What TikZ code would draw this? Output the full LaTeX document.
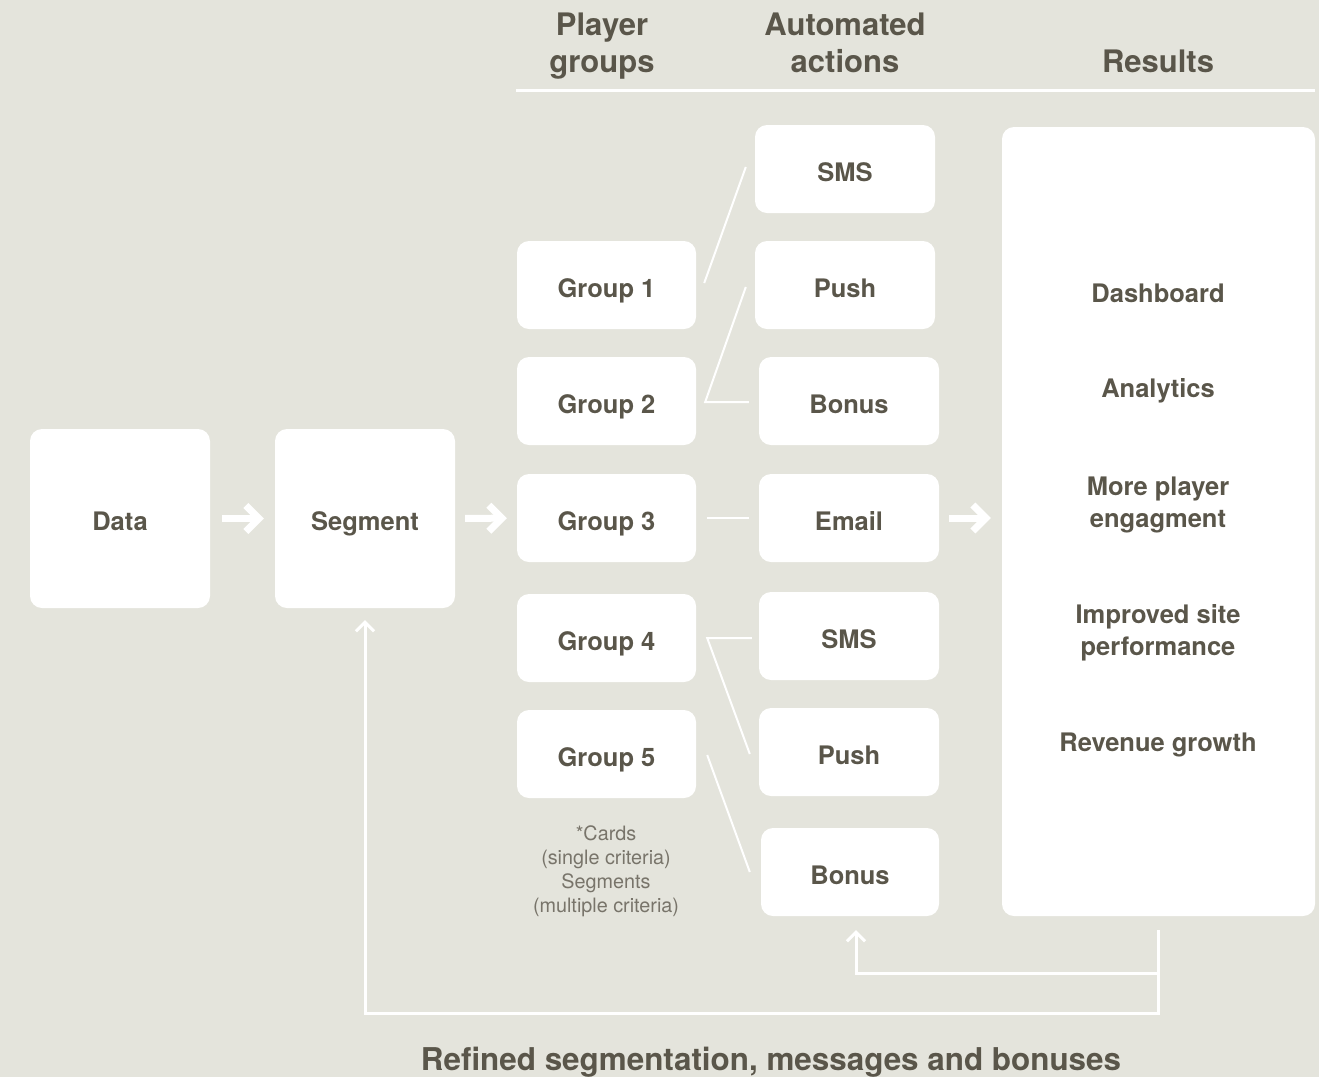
\documentclass[tikz,border=0pt]{standalone}
\usepackage{fontspec}
\setmainfont{TeX Gyre Heros}
\usetikzlibrary{arrows.meta,calc}
\definecolor{bgcol}{RGB}{228,228,220}
\definecolor{inkcol}{RGB}{90,86,74}
\definecolor{notecol}{RGB}{120,116,106}

\begin{document}
\begin{tikzpicture}[x=1pt,y=-1pt,
  box/.style={fill=white, rounded corners=12pt, inner sep=0pt, align=center,
    text=inkcol, font=\fontsize{25.5}{32}\selectfont\bfseries},
  bigbox/.style={box, minimum width=180pt, minimum height=179pt, text height=24pt, text depth=0pt},
  smallbox/.style={box, minimum width=180pt, minimum height=88pt, text height=24pt, text depth=0pt},
  item/.style={text=inkcol, align=center, font=\fontsize{25.5}{32}\selectfont\bfseries},
  head/.style={text=inkcol, align=center, font=\fontsize{31}{37}\selectfont\bfseries},
  link/.style={white, line width=2pt},
  bigarrow/.style={white, line width=7pt, -{Straight Barb[length=13pt,width=26pt,sharp]}},
  backarrow/.style={white, line width=3pt, -{Straight Barb[length=9pt,width=18pt]}}
]
  % background and page size
  \fill[bgcol, use as bounding box] (0,0) rectangle (1319,1077);

  % column heads
  \node[head] (hgroups) at (602,46) {Player\\groups};
  \node[head] (hactions) at (845,43) {Automated\\actions};
  \node[head] (hresults) at (1158,61) {Results};
  \draw[white, line width=3pt] (516,90) -- (1315,90);

  % first two steps
  \node[bigbox] (data) at (120,518.5) {Data};
  \node[bigbox] (segment) at (365,518.5) {Segment};

  % player groups
  \node[smallbox, minimum width=179pt] (g1) at (606.5,285) {Group 1};
  \node[smallbox, minimum width=179pt] (g2) at (606.5,401) {Group 2};
  \node[smallbox, minimum width=179pt] (g3) at (606.5,518) {Group 3};
  \node[smallbox, minimum width=179pt] (g4) at (606.5,638) {Group 4};
  \node[smallbox, minimum width=179pt] (g5) at (606.5,754) {Group 5};

  \node[text=notecol, align=center, font=\fontsize{19.8}{24}\selectfont] (note) at (606,871)
    {*Cards\\(single criteria)\\Segments\\(multiple criteria)};

  % automated actions
  \node[smallbox] (sms1) at (845,169) {SMS};
  \node[smallbox] (push1) at (845,285) {Push};
  \node[smallbox] (bonus1) at (849,401) {Bonus};
  \node[smallbox] (email) at (849,518) {Email};
  \node[smallbox] (sms2) at (849,636) {SMS};
  \node[smallbox] (push2) at (849,752) {Push};
  \node[smallbox, minimum width=178pt] (bonus2) at (850,872) {Bonus};

  % results
  \node[box, minimum width=313pt, minimum height=789pt] (results) at (1158.5,521.5) {};
  \node[item] (dashb) at (1158,293) {Dashboard};
  \node[item] (analyt) at (1158,391) {Analytics};
  \node[item] (engage) at (1158,505) {More player\\engagment};
  \node[item] (perf) at (1158,633) {Improved site\\performance};
  \node[item] (revenue) at (1158,745) {Revenue growth};

  % thick arrows
  \draw[bigarrow, shorten <=12pt, shorten >=11pt] (data) -- (segment);
  \draw[bigarrow, shorten <=10pt, shorten >=10pt] (segment) -- (g3);
  \draw[bigarrow, shorten <=10pt, shorten >=11pt] (email.east) -- (email.east -| results.west);

  % group to action lines
  \draw[link] ($(g1.east)+(8,-2)$) -- ($(sms1.west)+(-9,-2)$);
  \draw[link] ($(push1.west)+(-9,2)$) -- ($(g2.east)+(9,1)$) -- ($(bonus1.west)+(-10,1)$);
  \draw[link] ($(g3.east)+(11,0)$) -- ($(email.west)+(-10,0)$);
  \draw[link] ($(sms2.west)+(-7,2)$) -- ($(g4.east)+(11,0)$) -- ($(push2.west)+(-9,2)$);
  \draw[link] ($(g5.east)+(11,1)$) -- ($(bonus2.west)+(-11,0)$);

  % feedback loops
  \draw[backarrow] ($(results.south)+(-0.5,14)$) -- ++(0,83) -| ($(segment.south)+(0,12)$);
  \draw[backarrow] ($(results.south)+(-0.5,57)$) -| ($(bonus2.south)+(6,14)$);

  \node[head, font=\fontsize{31.4}{36}\selectfont\bfseries] (footer) at (771,1062)
    {Refined segmentation, messages and bonuses};
\end{tikzpicture}
\end{document}
